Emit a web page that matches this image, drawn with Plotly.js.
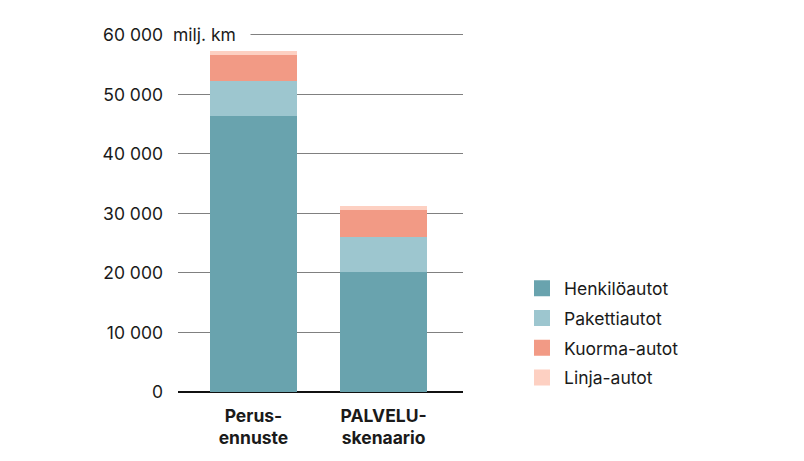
<!DOCTYPE html>
<html>
<head>
<meta charset="utf-8">
<script src="https://cdn.plot.ly/plotly-3.0.1.min.js"></script>
<style>
  html, body { margin: 0; padding: 0; background: #fff; }
  #plot { width: 804px; height: 461px; }
</style>
</head>
<body>
<div id="plot"></div>
<script>
'use strict';

const scenarios = ['Perus-<br>ennuste', 'PALVELU-<br>skenaario'];
const seriesNames = ['Henkilöautot', 'Pakettiautot', 'Kuorma-autot', 'Linja-autot'];
const henkiloautot = [46400, 20200];
const pakettiautot = [5900, 5900];
const kuormaautot = [4300, 4500];
const linjaautot = [700, 700];
const tickValues = [0, 10000, 20000, 30000, 40000, 50000, 60000];
const tickLabels = ['0', '10 000', '20 000', '30 000', '40 000', '50 000', '60 000'];
const unitLabel = 'milj. km';

const colors = ['#69a3ae', '#9dc6cf', '#f29a85', '#fdd0c2'];
const seriesValues = [henkiloautot, pakettiautot, kuormaautot, linjaautot];

const font = 'Inter, "Noto Sans", sans-serif';

var traces = [];

// stacked bars, legend drawn by the dummy traces below
seriesValues.forEach(function (vals, i) {
  traces.push({
    type: 'bar',
    x: [0, 1],
    y: vals,
    name: seriesNames[i],
    width: 0.67,
    marker: {color: colors[i], line: {width: 0}},
    showlegend: false,
    hoverinfo: 'y+name'
  });
});

// bigger square legend markers, one group each so the gap spreads them
seriesNames.forEach(function (name, i) {
  traces.push({
    type: 'scatter',
    mode: 'markers',
    x: [null],
    y: [null],
    name: name,
    legendgroup: 'g' + i,
    marker: {symbol: 'square', size: 16, color: colors[i]},
    showlegend: true
  });
});

var layout = {
  width: 804,
  height: 461,
  paper_bgcolor: '#ffffff',
  plot_bgcolor: '#ffffff',
  barmode: 'stack',
  font: {family: font, size: 17, color: '#1a1a1a'},
  margin: {l: 178, r: 341, t: 29, b: 69},
  xaxis: {
    range: [-0.58, 1.61],
    tickvals: [0, 1],
    ticktext: scenarios.map(function (s) { return '<b>' + s + '</b>'; }),
    tickfont: {family: font, size: 17.5, color: '#1a1a1a'},
    showgrid: false,
    zeroline: false,
    showline: false,
    ticks: '',
    ticklabelstandoff: 11,
    fixedrange: true
  },
  yaxis: {
    // a bit of headroom so the 60 000 gridline is drawn
    range: [0, 61000],
    tickvals: tickValues,
    ticktext: tickLabels,
    tickfont: {family: font, size: 17.5, color: '#1a1a1a'},
    showgrid: true,
    gridcolor: '#808080',
    gridwidth: 1,
    zeroline: true,
    zerolinecolor: '#111111',
    zerolinewidth: 2,
    ticks: '',
    ticklabelstandoff: 14,
    showline: false,
    fixedrange: true
  },
  legend: {
    x: 1.2,
    xanchor: 'left',
    y: 0.335,
    yanchor: 'top',
    traceorder: 'grouped',
    font: {family: font, size: 17.5, color: '#1a1a1a'},
    itemsizing: 'trace',
    itemwidth: 34,
    tracegroupgap: 4,
    bgcolor: 'rgba(0,0,0,0)'
  },
  annotations: [{
    // white box hides the start of the top gridline behind the unit
    xref: 'paper',
    yref: 'y',
    x: -0.035,
    y: 60000,
    xanchor: 'left',
    yanchor: 'middle',
    text: unitLabel + '&nbsp;&nbsp;',
    showarrow: false,
    bgcolor: '#ffffff',
    borderpad: 4,
    font: {family: font, size: 17.5, color: '#1a1a1a'}
  }]
};

Plotly.newPlot('plot', traces, layout, {displayModeBar: false, staticPlot: true});
</script>
</body>
</html>
